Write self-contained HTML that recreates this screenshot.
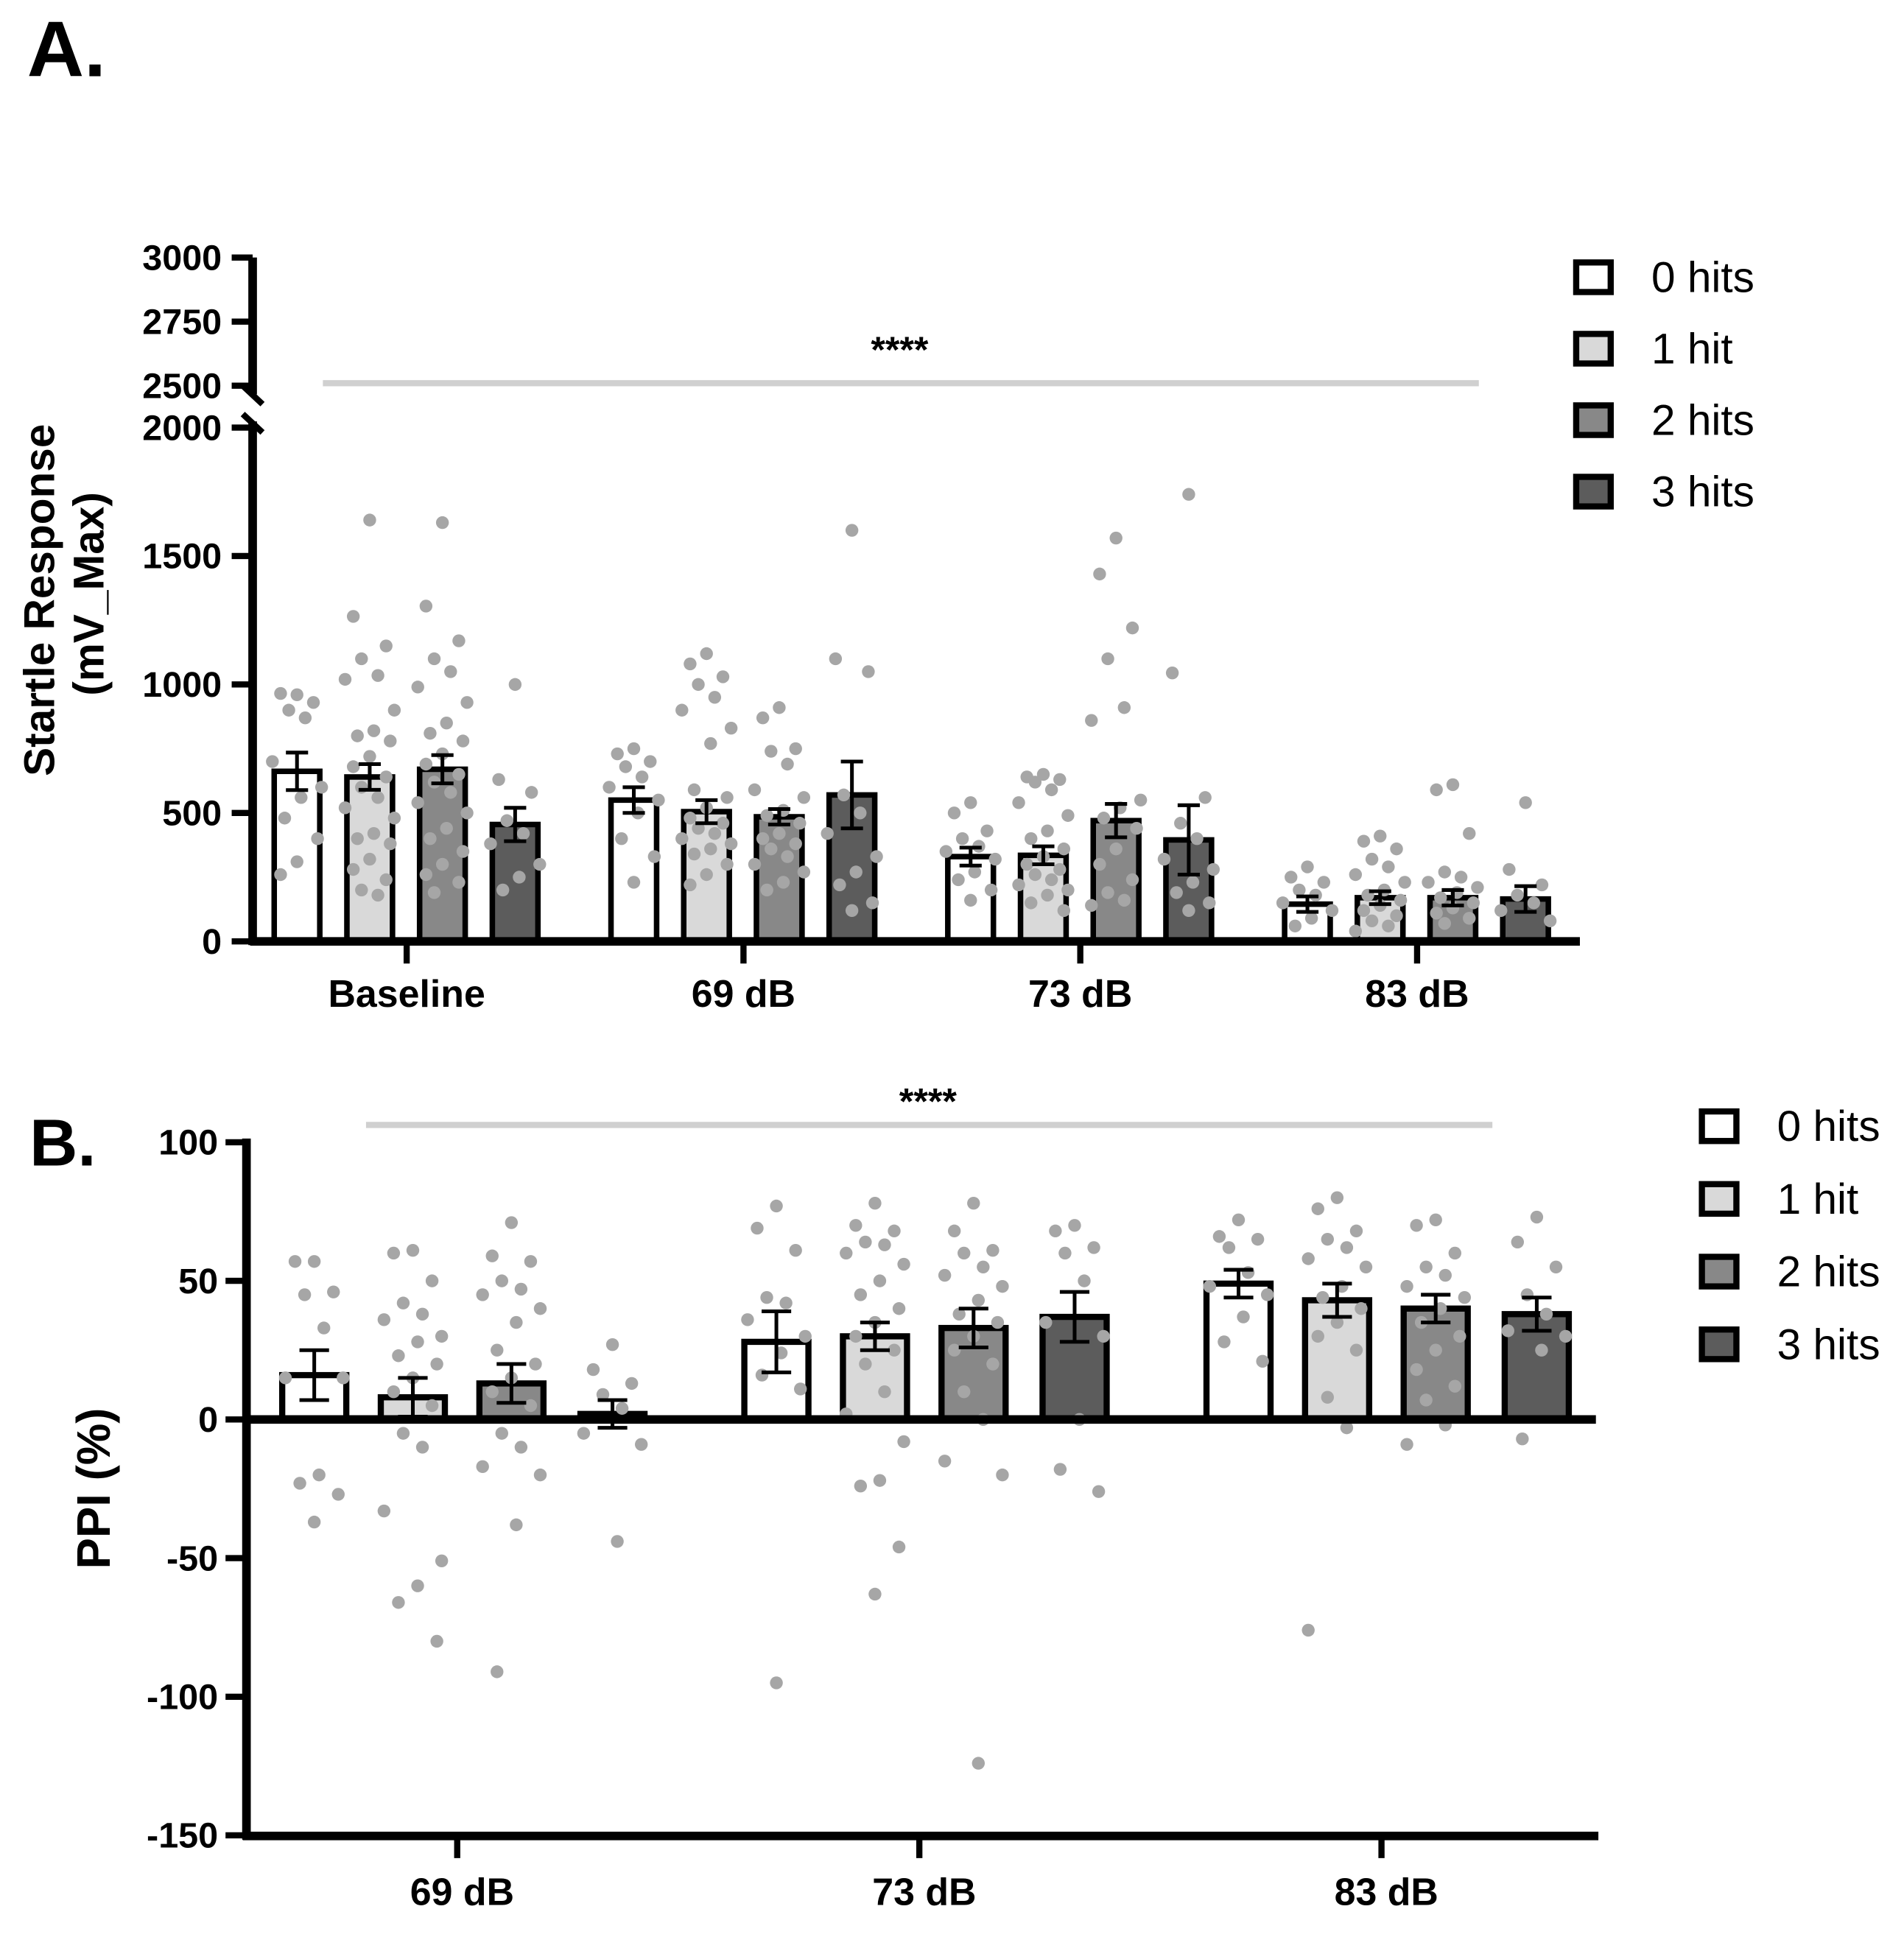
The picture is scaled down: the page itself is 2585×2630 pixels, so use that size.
<!DOCTYPE html>
<html><head><meta charset="utf-8"><style>
html,body{margin:0;padding:0;background:#fff;}
svg{display:block;font-family:"Liberation Sans",Arial,sans-serif;}
</style></head><body>
<svg id="fig" width="2585" height="2630" viewBox="0 0 1545 1572" preserveAspectRatio="none">
<text x="22" y="62" font-size="64" font-weight="bold">A.</text>
<text x="24" y="946" font-size="54" font-weight="bold">B.</text>
<g id="A"></g>
<g id="B"></g>
</svg>
<script>
const NS="http://www.w3.org/2000/svg";
const fills=["#ffffff","#d9d9d9","#888888","#5c5c5c"];
const seriesNames=["0 hits","1 hit","2 hits","3 hits"];
// Panel A data
const catsA=["Baseline","69 dB","73 dB","83 dB"];
const meanA=[[662,640,670,455],[550,505,485,570],[330,335,470,395],[145,170,170,165]];
const semA=[[73,50,55,65],[50,45,30,130],[35,35,65,135],[30,25,30,50]];
const ticksA=[0,500,1000,1500,2000];
const ticksAUpper=[2500,2750,3000];
const ptsA=[
[[960,965,930,900,870,700,600,560,480,400,310,260],[1640,1265,1150,1100,1035,1020,900,820,800,780,720,680,640,600,560,520,480,420,400,380,320,280,240,200,180],[1630,1305,1170,1100,1050,990,930,850,810,780,730,690,650,620,580,540,500,440,400,350,300,260,230,190],[1000,630,580,470,420,380,300,250,200]],
[[750,730,700,680,640,600,550,500,400,330,230],[1120,1080,1030,1000,950,900,830,770,590,560,520,480,460,440,420,400,380,360,340,300,260,220],[910,870,750,740,690,590,560,510,490,460,420,400,380,360,330,300,270,230,200],[1600,1100,1050,570,500,420,330,270,220,150,120]],
[[540,500,430,400,370,350,320,270,240,200,160],[650,640,630,620,590,540,490,430,400,360,330,300,280,260,240,220,200,180,150,120],[1570,1430,1220,1100,910,860,550,520,480,440,360,300,240,190,160,140],[1740,1045,560,460,400,320,280,230,190,150,120]],
[[290,250,230,200,180,150,120,90,60],[410,390,360,320,290,260,230,200,180,160,140,120,100,80,60,40],[610,590,420,270,250,230,210,190,170,150,130,110,90,70],[540,280,220,180,150,120,80]]
];
// Panel B data
const catsB=["69 dB","73 dB","83 dB"];
const meanB=[[16,8,13,2],[28,30,33,37],[49,43,40,38]];
const semB=[[9,7,7,5],[11,5,7,9],[5,6,5,6]];
const ticksB=[-150,-100,-50,0,50,100];
const ptsB=[
[[57,57,46,45,33,15,15,-20,-23,-27,-37],[61,60,50,42,38,36,30,28,23,20,15,10,5,-5,-10,-33,-51,-60,-66,-80],[71,59,57,50,47,45,40,35,25,20,15,10,5,-5,-10,-17,-20,-38,-91],[27,18,13,9,4,-5,-9,-44]],
[[77,69,61,44,42,36,30,24,16,11,-95],[78,70,68,64,63,60,56,50,45,40,35,30,25,20,10,2,-8,-22,-24,-46,-63],[78,68,61,60,55,52,48,43,38,35,30,25,20,10,0,-15,-20,-124],[70,68,62,60,50,35,30,0,-18,-26]],
[[72,66,65,62,53,48,45,37,28,21],[80,76,68,65,62,58,55,48,44,40,35,30,25,8,-3,-76],[72,70,60,55,52,48,44,40,35,30,25,18,12,7,-2,-9],[73,64,55,45,38,32,30,25,-7]]
];
function el(parent,tag,attrs,txt){const e=document.createElementNS(NS,tag);for(const k in attrs)e.setAttribute(k,attrs[k]);if(txt!==undefined)e.textContent=txt;parent.appendChild(e);return e;}
const jit=[0,-0.6,0.6,-0.3,0.3,-0.9,0.9,0.15,-0.45,0.75];

// ---- Panel A ----
const gA=document.getElementById("A");
const yA=v=>764-v*(417/2000);
const yAU=v=>313-(v-2500)*(104/500);
const xA=i=>330+i*273.3;
const offA=[-89,-30,29,88], bwA=37;
catsA.forEach((c,gi)=>{
  for(let s=0;s<4;s++){
    const cx=xA(gi)+offA[s], m=meanA[gi][s];
    const r=el(gA,"rect",{x:cx-bwA/2,y:yA(m),width:bwA,height:yA(0)-yA(m),fill:fills[s],stroke:"#000","stroke-width":4.5});
    
    
    ptsA[gi][s].forEach((v,k)=>{
      const d=el(gA,"circle",{cx:cx+jit[k%10]*bwA*0.6,cy:yA(v),r:5.2,fill:"#a6a6a6"});
      
      
    });
    const e=semA[gi][s];
    const eg=el(gA,"path",{d:`M${cx},${yA(m-e)}V${yA(m+e)}M${cx-9},${yA(m+e)}H${cx+9}M${cx-9},${yA(m-e)}H${cx+9}`,stroke:"#000","stroke-width":3,fill:"none"});
    
    
  }
  el(gA,"line",{x1:xA(gi),x2:xA(gi),y1:764,y2:782,stroke:"#000","stroke-width":5});
  const t=el(gA,"text",{x:xA(gi),y:817,"font-size":31,"font-weight":"bold","text-anchor":"middle"},c);
  
  
});
el(gA,"path",{d:"M205,209V320M205,342V767M203,764H1282",stroke:"#000","stroke-width":7,fill:"none"});
el(gA,"path",{d:"M197,313L213,328M197,336L213,351",stroke:"#000","stroke-width":5});
ticksA.forEach(v=>{el(gA,"line",{x1:188,x2:205,y1:yA(v),y2:yA(v),stroke:"#000","stroke-width":5});
  const t=el(gA,"text",{x:180,y:yA(v)+10,"font-size":29,"font-weight":"bold","text-anchor":"end"},v);
  });
ticksAUpper.forEach(v=>{el(gA,"line",{x1:188,x2:205,y1:yAU(v),y2:yAU(v),stroke:"#000","stroke-width":5});
  const t=el(gA,"text",{x:180,y:yAU(v)+10,"font-size":29,"font-weight":"bold","text-anchor":"end"},v);
  });
el(gA,"line",{x1:262,x2:1200,y1:311,y2:311,stroke:"#d0d0d0","stroke-width":5});
el(gA,"text",{x:730,y:294,"font-size":30,"font-weight":"bold","text-anchor":"middle"},"****");
el(gA,"text",{x:0,y:0,"font-size":35,"font-weight":"bold","text-anchor":"middle",transform:"translate(44,487) rotate(-90)"},"Startle Response");
el(gA,"text",{x:0,y:0,"font-size":35,"font-weight":"bold","text-anchor":"middle",transform:"translate(84,482) rotate(-90)"},"(mV_Max)");
seriesNames.forEach((n,s)=>{const y=225+s*58;
  const r=el(gA,"rect",{x:1279,y:y-12,width:28,height:24,fill:fills[s],stroke:"#000","stroke-width":5});
  
  el(gA,"text",{x:1340,y:y+12,"font-size":35},n);});

// ---- Panel B ----
const gB=document.getElementById("B");
const yB=v=>1152-v*2.25;
const xB=i=>371+i*375;
const offB=[-116,-36,44,126], bwB=52;
catsB.forEach((c,gi)=>{
  for(let s=0;s<4;s++){
    const cx=xB(gi)+offB[s], m=meanB[gi][s];
    const r=el(gB,"rect",{x:cx-bwB/2,y:Math.min(yB(m),yB(0)),width:bwB,height:Math.abs(yB(0)-yB(m)),fill:fills[s],stroke:"#000","stroke-width":5});
    
    
    ptsB[gi][s].forEach((v,k)=>{
      const d=el(gB,"circle",{cx:cx+jit[k%10]*bwB*0.5,cy:yB(v),r:5.2,fill:"#a6a6a6"});
      
      
    });
    const e=semB[gi][s];
    const eg=el(gB,"path",{d:`M${cx},${yB(m-e)}V${yB(m+e)}M${cx-12},${yB(m+e)}H${cx+12}M${cx-12},${yB(m-e)}H${cx+12}`,stroke:"#000","stroke-width":3,fill:"none"});
    
    
  }
  el(gB,"line",{x1:xB(gi),x2:xB(gi),y1:1490,y2:1508,stroke:"#000","stroke-width":5});
  const t=el(gB,"text",{x:xB(gi)+4,y:1546,"font-size":31,"font-weight":"bold","text-anchor":"middle"},c);
  
  
});
el(gB,"path",{d:"M200,924V1493M197,1490H1297M200,1152H1295",stroke:"#000","stroke-width":7,fill:"none"});
ticksB.forEach(v=>{el(gB,"line",{x1:183,x2:200,y1:yB(v),y2:yB(v),stroke:"#000","stroke-width":5});
  const t=el(gB,"text",{x:177,y:yB(v)+10,"font-size":29,"font-weight":"bold","text-anchor":"end"},v);
  });
el(gB,"line",{x1:297,x2:1211,y1:913,y2:913,stroke:"#d0d0d0","stroke-width":5});
el(gB,"text",{x:753,y:904,"font-size":30,"font-weight":"bold","text-anchor":"middle"},"****");
el(gB,"text",{x:0,y:0,"font-size":38,"font-weight":"bold","text-anchor":"middle",transform:"translate(89,1208) rotate(-90)"},"PPI (%)");
seriesNames.forEach((n,s)=>{const y=914+s*59;
  const r=el(gB,"rect",{x:1381,y:y-12,width:28,height:24,fill:fills[s],stroke:"#000","stroke-width":5});
  
  el(gB,"text",{x:1442,y:y+12,"font-size":35},n);});
</script>
</body></html>
